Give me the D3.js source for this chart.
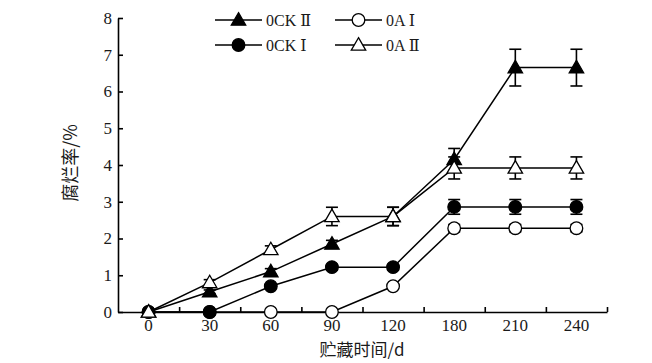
<!DOCTYPE html>
<html>
<head>
<meta charset="utf-8">
<script src="https://cdn.jsdelivr.net/npm/d3@7"></script>
<style>
  body { margin: 0; background: #fff; }
  .tick text { font-family: "Liberation Serif", "Times New Roman", serif !important; }
</style>
</head>
<body>
<svg id="chart" width="652" height="363"></svg>
<script>
const days = ["0", "30", "60", "90", "120", "180", "210", "240"];
const yTicks = [0, 1, 2, 3, 4, 5, 6, 7, 8];

const ockII = [0, 0.55, 1.1, 1.85, 2.6, 4.15, 6.65, 6.65];
const ockIIErr = [0, 0.05, 0.08, 0.1, 0.25, 0.3, 0.5, 0.5];
const oaII = [0, 0.8, 1.7, 2.6, 2.6, 3.92, 3.92, 3.92];
const oaIIErr = [0, 0.08, 0.1, 0.25, 0.25, 0.3, 0.3, 0.3];
const ockI = [0, 0, 0.7, 1.22, 1.22, 2.86, 2.86, 2.86];
const ockIErr = [0, 0, 0.05, 0.08, 0.08, 0.2, 0.2, 0.2];
const oaI = [0, 0, 0, 0, 0.7, 2.28, 2.28, 2.28];
const oaIErr = [0, 0, 0, 0, 0.05, 0.1, 0.1, 0.1];

const series = [
    { name: "0CK Ⅱ", values: ockII, err: ockIIErr, shape: "triangle", fill: "#000" },
    { name: "0A Ⅰ", values: oaI, err: oaIErr, shape: "circle", fill: "#fff" },
    { name: "0CK Ⅰ", values: ockI, err: ockIErr, shape: "circle", fill: "#000" },
    { name: "0A Ⅱ", values: oaII, err: oaIIErr, shape: "triangle", fill: "#fff" }
];

const SERIF = '"Liberation Serif", "Times New Roman", "DejaVu Serif", serif';
const CJK = '"Noto Sans CJK SC", sans-serif';

const svg = d3.select("#chart");
const margin = { top: 18, right: 45, bottom: 51, left: 118 };
const innerWidth = 607 - margin.left;
const innerHeight = 312 - margin.top;

const g = svg.append("g").attr("transform", `translate(${margin.left},${margin.top})`);

const xScale = d3.scaleBand().domain(days).range([0, innerWidth]).paddingInner(0).paddingOuter(0);
const yScale = d3.scaleLinear().domain([0, 8]).range([innerHeight, 0]);
const edgeScale = d3.scaleLinear().domain([0, days.length]).range([0, innerWidth]);

const xc = i => xScale(days[i]) + xScale.bandwidth() / 2;

// axes
const yAxis = d3.axisLeft(yScale).tickValues(yTicks).tickSizeInner(-5).tickSizeOuter(0).tickPadding(6);
const yAxisGroup = g.append("g").call(yAxis);

const xEdges = d3.axisBottom(edgeScale).tickValues(d3.range(1, days.length + 1)).tickSizeInner(-5).tickSizeOuter(0).tickFormat("");
const xEdgeGroup = g.append("g").attr("transform", `translate(0,${innerHeight})`).call(xEdges);

const xAxis = d3.axisBottom(xScale).tickSize(0).tickPadding(7);
const xAxisGroup = g.append("g").attr("transform", `translate(0,${innerHeight})`).call(xAxis);
xAxisGroup.select(".domain").remove();

[yAxisGroup, xEdgeGroup].forEach(a => {
    a.selectAll(".domain, line").attr("stroke", "#000").attr("stroke-width", 1.6);
});
[yAxisGroup, xAxisGroup].forEach(a => {
    a.attr("font-family", SERIF).attr("font-size", 17)
        .style("font-family", SERIF);
    a.selectAll("text")
        .style("font-family", SERIF)
        .style("font-size", "17px")
        .attr("fill", "#1a1a1a");
});

// axis titles
svg.append("text")
    .attr("transform", "translate(77,163) rotate(-90)")
    .attr("text-anchor", "middle")
    .style("font-family", CJK)
    .style("font-size", "18px")
    .attr("fill", "#1a1a1a")
    .text("腐烂率/%");

svg.append("text")
    .attr("x", 362)
    .attr("y", 356)
    .attr("text-anchor", "middle")
    .style("font-family", CJK)
    .style("font-size", "17px")
    .attr("fill", "#1a1a1a")
    .text("贮藏时间/d");

const symbolFor = s => s.shape === "triangle"
    ? d3.symbol().type(d3.symbolTriangle).size(90)()
    : d3.symbol().type(d3.symbolCircle).size(125)();

const line = d3.line().x((d, i) => xc(i)).y(d => yScale(d));

// lines
series.forEach(s => {
    g.append("path")
        .datum(s.values)
        .attr("fill", "none")
        .attr("stroke", "#000")
        .attr("stroke-width", 1.5)
        .attr("d", line);
});

// error bars
series.forEach(s => {
    const eb = g.append("g");
    s.values.forEach((v, i) => {
        const e = s.err[i];
        if (e <= 0) return;
        const x = xc(i);
        const top = yScale(v + e), bot = yScale(v - e);
        eb.append("line").attr("x1", x).attr("x2", x).attr("y1", top).attr("y2", bot);
        eb.append("line").attr("x1", x - 6).attr("x2", x + 6).attr("y1", top).attr("y2", top);
        eb.append("line").attr("x1", x - 6).attr("x2", x + 6).attr("y1", bot).attr("y2", bot);
    });
    eb.selectAll("line").attr("stroke", "#000").attr("stroke-width", 1.6);
});

// markers
series.forEach(s => {
    g.append("g").selectAll("path")
        .data(s.values)
        .join("path")
        .attr("d", symbolFor(s))
        .attr("transform", (d, i) => `translate(${xc(i)},${yScale(d) + (s.shape === "triangle" ? 1 : 0)})`)
        .attr("fill", s.fill)
        .attr("stroke", "#000")
        .attr("stroke-width", 1.3);
});

// legend
const legendPos = [
    { x: 215, y: 20 }, { x: 335, y: 20 },
    { x: 215, y: 45 }, { x: 335, y: 45 }
];
series.forEach((s, i) => {
    const p = legendPos[i];
    const lg = svg.append("g").attr("transform", `translate(${p.x},${p.y})`);
    lg.append("line").attr("x1", 0).attr("x2", 47).attr("y1", 0).attr("y2", 0)
        .attr("stroke", "#000").attr("stroke-width", 1.5);
    lg.append("path").attr("d", symbolFor(s))
        .attr("transform", `translate(23.5,${s.shape === "triangle" ? 1 : 0})`)
        .attr("fill", s.fill).attr("stroke", "#000").attr("stroke-width", 1.3);
    lg.append("text").attr("x", 51).attr("y", 6)
        .style("font-family", SERIF)
        .style("font-size", "16px")
        .attr("fill", "#1a1a1a")
        .text(s.name);
});
</script>
</body>
</html>
